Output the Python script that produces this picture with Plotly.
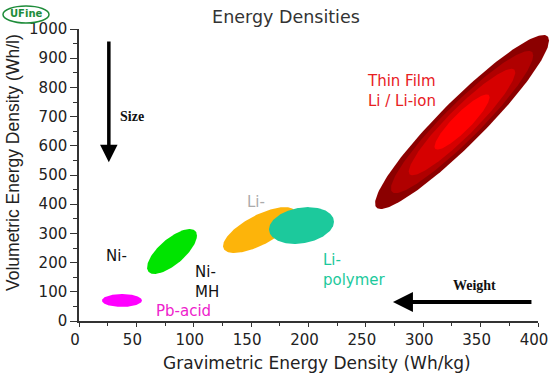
import numpy as np
import plotly.graph_objects as go

# ---------------- data ----------------
region_names = ["Pb-acid", "Ni", "Li-ion", "Li-polymer",
                "Thin film (outer)", "Thin film (2)", "Thin film (3)", "Thin film (core)"]
grav_min = [20.0, 59.3, 125.5, 165.6, 258.0, 271.8, 287.4, 309.8]     # Wh/kg
grav_max = [54.9, 102.8, 189.0, 222.2, 409.6, 395.8, 380.2, 357.8]    # Wh/kg
vol_min = [48.0, 161.0, 233.0, 264.0, 383.5, 438.0, 499.0, 587.0]     # Wh/l
vol_max = [92.5, 315.0, 390.0, 390.0, 979.5, 925.0, 864.0, 776.0]     # Wh/l
corr_phase = [90.0, 45.0, 46.0, 78.0, 20.6, 20.6, 21.4, 26.6]          # deg, 90 = uncorrelated

x_ticks = [0, 50, 100, 150, 200, 250, 300, 350, 400]
y_ticks = [0, 100, 200, 300, 400, 500, 600, 700, 800, 900, 1000]

label_texts = ["Thin Film<br>Li / Li-ion", "Ni-", "Ni-<br>MH", "Pb-acid", "Li-", "Li-<br>polymer"]
label_x = [249.2, 21.8, 99.3, 65.4, 144.7, 211.0]
label_y = [789.0, 222.6, 132.0, 34.0, 407.5, 176.0]

# ---------------- styles ----------------
fill_colors = ["#FF00FF", "#00E400", "#FDB40A", "#1CC99C",
               "#8B0000", "#B00000", "#D60000", "#FF0000"]
label_colors = ["#E8201E", "#111111", "#111111", "#EE22CC", "#ABABAB", "#1CC99C"]

W, H = 550, 380
ML, MR, MT, MB = 79, 0, 29, 59
plot_w = W - ML - MR
main_w = 459  # pixel width of 0..400 axis
dom_main = main_w / plot_w

fig = go.Figure()


def ellipse(x0, x1, y0, y1, phase_deg, n=180):
    t = np.linspace(0, 2 * np.pi, n)
    cx, rx = (x0 + x1) / 2, (x1 - x0) / 2
    cy, ry = (y0 + y1) / 2, (y1 - y0) / 2
    d = np.radians(phase_deg)
    return cx + rx * np.cos(t), cy + ry * np.cos(t - d)


for i, name in enumerate(region_names):
    ex, ey = ellipse(grav_min[i], grav_max[i], vol_min[i], vol_max[i], corr_phase[i])
    fig.add_trace(go.Scatter(
        x=ex, y=ey, mode="lines", fill="toself", name=name,
        fillcolor=fill_colors[i], line=dict(width=0, color=fill_colors[i]),
        xaxis="x2", yaxis="y", hoverinfo="skip", showlegend=False))

annotations = []
for t, x, y, c in zip(label_texts, label_x, label_y, label_colors):
    annotations.append(dict(text=t, x=x, y=y, xref="x", yref="y", xanchor="left",
                            yanchor="middle", align="left", showarrow=False,
                            font=dict(family="DejaVu Sans", size=15, color=c)))

# arrows and their captions
annotations += [
    dict(x=26, y=544, ax=26, ay=962, xref="x", yref="y", axref="x", ayref="y",
         text="", showarrow=True, arrowhead=2, arrowsize=1.0, arrowwidth=3.5,
         arrowcolor="#000000"),
    dict(x=273.6, y=65, ax=395.6, ay=65, xref="x", yref="y", axref="x", ayref="y",
         text="", showarrow=True, arrowhead=2, arrowsize=1.0, arrowwidth=4,
         arrowcolor="#000000"),
    dict(text="<b>Size</b>", x=34, y=702, xref="x", yref="y", xanchor="left",
         yanchor="middle", showarrow=False,
         font=dict(family="Liberation Serif", size=14, color="#111111")),
    dict(text="<b>Weight</b>", x=344.7, y=120, xref="x", yref="y", xanchor="center",
         yanchor="middle", showarrow=False,
         font=dict(family="Liberation Serif", size=14, color="#111111")),
    # axis titles
    dict(text="Gravimetric Energy Density (Wh/kg)", x=(317 - ML) / plot_w, y=-42 / 292,
         xref="paper", yref="paper", xanchor="center", yanchor="middle", showarrow=False,
         font=dict(family="DejaVu Sans", size=17, color="#222222")),
    dict(text="Volumetric Energy Density (Wh/l)", x=(13 - ML) / plot_w, y=158 / 292,
         xref="paper", yref="paper", xanchor="center", yanchor="middle", showarrow=False,
         textangle=-90, font=dict(family="Liberation Sans", size=17.5, color="#222222")),
    # logo
    dict(text="<b>UFine</b>", x=(26 - ML) / plot_w, y=(321 - 14) / 292,
         xref="paper", yref="paper", xanchor="center", yanchor="middle", showarrow=False,
         font=dict(family="DejaVu Sans", size=10, color="#1E8C3A")),
]

shapes = [
    dict(type="circle", xref="paper", yref="paper",
         x0=(3 - ML) / plot_w, x1=(49 - ML) / plot_w,
         y0=(321 - 23) / 292, y1=(321 - 6) / 292,
         line=dict(color="#1E8C3A", width=1.5), fillcolor="rgba(0,0,0,0)"),
]

axis_font = dict(family="DejaVu Sans", size=15, color="#222222")

fig.update_layout(
    width=W, height=H,
    margin=dict(l=ML, r=MR, t=MT, b=MB, pad=0, autoexpand=False),
    paper_bgcolor="white", plot_bgcolor="white",
    showlegend=False,
    title=dict(text="Energy Densities", x=(286 - ML) / plot_w, xref="paper",
               xanchor="center", y=1 - 17 / H, yref="container", yanchor="middle",
               font=dict(family="DejaVu Sans", size=17.5, color="#333333")),
    xaxis=dict(domain=[0, dom_main], range=[0, 400], tickvals=x_ticks,
               ticks="outside", ticklen=4, tickwidth=1.2, tickcolor="#333333",
               showline=True, linecolor="#333333", linewidth=1.5,
               showgrid=False, zeroline=False, tickfont=axis_font,
               ticklabelshift=-4, automargin=False,
               minor=dict(dtick=25, ticks="outside", ticklen=3, tickcolor="#333333",
                          tickwidth=1.2, showgrid=False),
               anchor="y", fixedrange=True),
    xaxis2=dict(domain=[0, 1], range=[0, 400 / dom_main], visible=False,
                anchor="y", showgrid=False, zeroline=False, fixedrange=True),
    yaxis=dict(domain=[0, 1], range=[0, 1000], tickvals=y_ticks,
               ticks="outside", ticklen=7, tickwidth=1.2, tickcolor="#333333",
               showline=True, linecolor="#333333", linewidth=1.5,
               showgrid=False, zeroline=False, tickfont=axis_font,
               minor=dict(dtick=50, ticks="outside", ticklen=4, tickcolor="#333333",
                          tickwidth=1.2, showgrid=False),
               anchor="x", fixedrange=True),
    annotations=annotations,
    shapes=shapes,
)

fig.write_html("out.html", config={"displayModeBar": False},
               post_script="document.body.style.margin='0';document.body.style.padding='0';")
